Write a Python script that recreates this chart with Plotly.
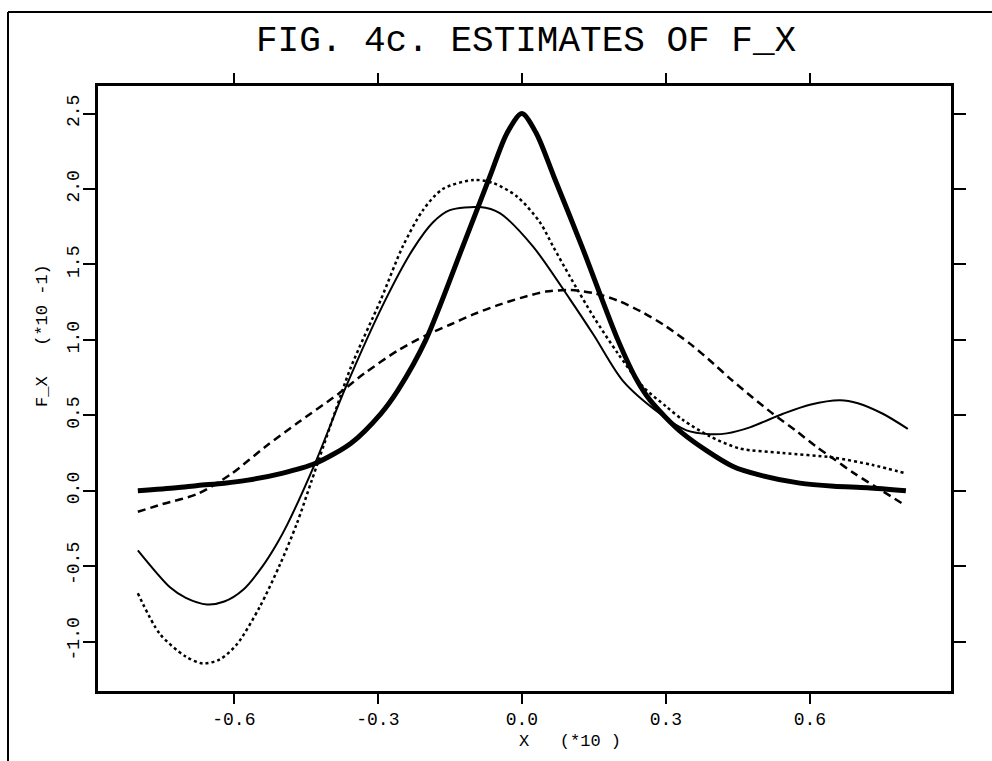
import plotly.graph_objects as go

# ---- data ----
thick_x = [-0.8, -0.72, -0.675, -0.62, -0.571, -0.5, -0.431, -0.356, -0.294, -0.258, -0.2, -0.123, -0.067, -0.031,
           0.0, 0.03, 0.067, 0.125, 0.2, 0.24, 0.267, 0.335, 0.44, 0.5, 0.579, 0.65, 0.72, 0.8]
thick_y = [0.0, 0.02, 0.035, 0.05, 0.07, 0.115, 0.18, 0.315, 0.51, 0.667, 1.0, 1.62, 2.08, 2.37,
           2.5, 2.37, 2.08, 1.62, 1.0, 0.73, 0.6, 0.38, 0.16, 0.1, 0.05, 0.03, 0.02, 0.0]

thin_x = [-0.8, -0.733, -0.7, -0.656, -0.62, -0.58, -0.54, -0.51, -0.488, -0.431, -0.369, -0.285, -0.227, -0.185,
          -0.15, -0.0875, -0.046, 0.023, 0.1, 0.15, 0.21, 0.288, 0.343, 0.392, 0.427, 0.475, 0.544, 0.6, 0.663,
          0.7, 0.752, 0.804]
thin_y = [-0.395, -0.64, -0.71, -0.754, -0.735, -0.655, -0.5, -0.35, -0.22, 0.18, 0.67, 1.26, 1.6, 1.78,
          1.86, 1.88, 1.84, 1.62, 1.27, 1.03, 0.73, 0.51, 0.40, 0.375, 0.38, 0.42, 0.51, 0.57, 0.60,
          0.58, 0.51, 0.41]

dot_x = [-0.8, -0.754, -0.7, -0.665, -0.63, -0.594, -0.546, -0.504, -0.469, -0.4375, -0.4, -0.356, -0.294,
         -0.248, -0.206, -0.165, -0.1, -0.06, -0.01, 0.0375, 0.065, 0.1, 0.15, 0.2, 0.252, 0.3, 0.335, 0.392,
         0.454, 0.544, 0.648, 0.731, 0.8]
dot_y = [-0.68, -0.95, -1.10, -1.145, -1.12, -1.02, -0.77, -0.49, -0.22, 0.07, 0.42, 0.82, 1.265,
         1.62, 1.86, 2.0, 2.06, 2.04, 1.95, 1.78, 1.62, 1.42, 1.15, 0.91, 0.69, 0.56, 0.47, 0.36,
         0.28, 0.25, 0.22, 0.17, 0.115]

dash_x = [-0.8, -0.75, -0.675, -0.606, -0.535, -0.467, -0.383, -0.327, -0.258, -0.2, -0.15, -0.1, -0.05, 0.0,
          0.05, 0.1, 0.15, 0.2, 0.25, 0.3, 0.35, 0.4, 0.433, 0.48, 0.523, 0.57, 0.614, 0.65, 0.69, 0.75, 0.8]
dash_y = [-0.14, -0.09, -0.02, 0.11, 0.29, 0.45, 0.64, 0.78, 0.93, 1.03, 1.10, 1.17, 1.23, 1.28,
          1.32, 1.33, 1.31, 1.26, 1.185, 1.09, 0.975, 0.84, 0.745, 0.62, 0.51, 0.40, 0.29, 0.21, 0.12, -0.0, -0.1]

x_ticks = [-0.6, -0.3, 0.0, 0.3, 0.6]
x_ticktext = ["-0.6", "-0.3", "0.0", "0.3", "0.6"]
y_ticks = [-1.0, -0.5, 0.0, 0.5, 1.0, 1.5, 2.0, 2.5]
y_ticktext = ["-1.0", "-0.5", "0.0", "0.5", "1.0", "1.5", "2.0", "2.5"]

FONT = "Liberation Mono"

fig = go.Figure()
fig.add_trace(go.Scatter(x=dash_x, y=dash_y, mode="lines",
                         line=dict(color="black", width=2.5, dash="8px,5px", shape="spline", smoothing=0.8)))
fig.add_trace(go.Scatter(x=dot_x, y=dot_y, mode="lines",
                         line=dict(color="black", width=2.5, dash="3px,3px", shape="spline", smoothing=0.8)))
fig.add_trace(go.Scatter(x=thin_x, y=thin_y, mode="lines",
                         line=dict(color="black", width=2, shape="spline", smoothing=0.8)))
fig.add_trace(go.Scatter(x=thick_x, y=thick_y, mode="lines",
                         line=dict(color="black", width=5, shape="spline", smoothing=0.8)))

axis_common = dict(showgrid=False, zeroline=False, showline=True, linecolor="black", linewidth=2.5,
                   mirror="ticks", ticks="outside", tickcolor="black", tickwidth=2,
                   tickfont=dict(family=FONT, size=18, color="black"))

fig.update_layout(
    width=992, height=761,
    margin=dict(l=98, r=41, t=86, b=70),
    paper_bgcolor="white", plot_bgcolor="white",
    showlegend=False,
    xaxis=dict(range=[-0.883, 0.894], tickvals=x_ticks, ticktext=x_ticktext, ticklen=10, **axis_common),
    yaxis=dict(range=[-1.328, 2.683], tickvals=y_ticks, ticktext=y_ticktext, ticklen=12, tickangle=-90,
               ticklabelstandoff=-3, **axis_common),
)

# title and axis titles
fig.add_annotation(text="FIG. 4c. ESTIMATES OF F_X", xref="paper", yref="paper",
                   x=0.502, y=(691 - 42) / 605, xanchor="center", yanchor="middle", showarrow=False,
                   font=dict(family=FONT, size=36, color="black"))
fig.add_annotation(text="X   (*10 )", xref="paper", yref="paper",
                   x=(517 - 98) / 853, y=(691 - 742) / 605, xanchor="left", yanchor="middle", showarrow=False,
                   font=dict(family=FONT, size=17, color="black"))
fig.add_annotation(text="F_X   (*10 -1)", xref="paper", yref="paper", textangle=-90,
                   x=(42 - 98) / 853, y=(691 - 335) / 605, xanchor="center", yanchor="middle", showarrow=False,
                   font=dict(family=FONT, size=17, color="black"))

# outer frame (top and left edges of the scanned page)
fig.add_shape(type="line", xref="paper", yref="paper", x0=(8 - 98) / 853, x1=(992 - 98) / 853,
              y0=(691 - 12) / 605, y1=(691 - 12) / 605, line=dict(color="black", width=2))
fig.add_shape(type="line", xref="paper", yref="paper", x0=(8 - 98) / 853, x1=(8 - 98) / 853,
              y0=(691 - 12) / 605, y1=(691 - 761) / 605, line=dict(color="black", width=2))

fig.write_html("out.html")
